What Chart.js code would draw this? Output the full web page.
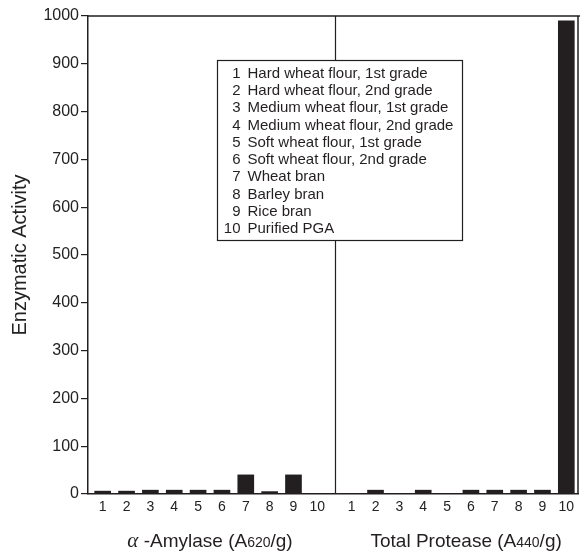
<!DOCTYPE html>
<html>
<head>
<meta charset="utf-8">
<script src="https://cdn.jsdelivr.net/npm/chart.js@4.4.1/dist/chart.umd.min.js"></script>
<style>
html,body{margin:0;padding:0;background:#fff;}
#wrap{width:580px;height:551px;position:relative;}
</style>
</head>
<body>
<div id="wrap"><canvas id="c" width="580" height="551"></canvas></div>
<script>
// ---- data ----
const categories = ['1','2','3','4','5','6','7','8','9','10'];
const amylase  = [6, 6, 8, 8, 8, 8, 40, 5, 40, 0];      // α-Amylase (A620/g)
const protease = [0, 8, 0, 8, 0, 8, 8, 8, 8, 990];      // Total Protease (A440/g)
const yTickValues = [0,100,200,300,400,500,600,700,800,900,1000];
const legendLabels = [
  'Hard wheat flour, 1st grade',
  'Hard wheat flour, 2nd grade',
  'Medium wheat flour, 1st grade',
  'Medium wheat flour, 2nd grade',
  'Soft wheat flour, 1st grade',
  'Soft wheat flour, 2nd grade',
  'Wheat bran',
  'Barley bran',
  'Rice bran',
  'Purified PGA'
];
const yTitle = 'Enzymatic Activity';

// ---- layout constants ----
const RIGHT_OFFSET = 10.44;   // shift of the second panel along x
const SEPARATOR = 10.74;      // panel divider
const X_MIN = 0.384, X_MAX = 20.93;
const INK = '#231f20';
const SANS = '"Liberation Sans", Arial, Helvetica, sans-serif';

const leftPos = categories.map((c,i)=>i+1);
const rightPos = categories.map((c,i)=>i+1+RIGHT_OFFSET);
const tickPositions = leftPos.concat(rightPos);
const tickLabels = categories.concat(categories);

const barData = amylase.map((v,i)=>({x:leftPos[i], y:v}))
  .concat(protease.map((v,i)=>({x:rightPos[i], y:v})));

function drawRich(ctx, parts, cx, baseline){
  let total = 0;
  parts.forEach(p=>{ctx.font=p.font; p.w = ctx.measureText(p.t).width; total += p.w;});
  let x = cx - total/2;
  ctx.textAlign='left'; ctx.textBaseline='alphabetic';
  parts.forEach(p=>{ctx.font=p.font; ctx.fillText(p.t, x, baseline); x += p.w;});
}

const decor = {
  id:'decor',
  afterDraw(chart){
    const ctx = chart.ctx, a = chart.chartArea;
    const xs = chart.scales.x;
    ctx.save();
    ctx.strokeStyle = INK; ctx.fillStyle = INK;
    // top and right frame
    ctx.lineWidth = 1.5;
    ctx.beginPath();
    ctx.moveTo(a.left, a.top); ctx.lineTo(chart.width, a.top);
    ctx.moveTo(a.right, a.top); ctx.lineTo(a.right, a.bottom);
    ctx.stroke();
    // separator
    const sx = Math.round(xs.getPixelForValue(SEPARATOR)) + 0.5;
    ctx.lineWidth = 1.2;
    ctx.beginPath(); ctx.moveTo(sx, a.top); ctx.lineTo(sx, a.bottom); ctx.stroke();

    // legend box
    const bx = a.left + 129.5, by = a.top + 44.5, bw = 245, bh = 180;
    ctx.fillStyle = '#fff';
    ctx.fillRect(bx, by, bw, bh);
    ctx.lineWidth = 1.2; ctx.strokeStyle = INK;
    ctx.strokeRect(bx, by, bw, bh);
    ctx.fillStyle = INK;
    ctx.font = '15px ' + SANS;
    ctx.textBaseline = 'middle';
    const rowH = 17.3, firstY = by + 13;
    legendLabels.forEach((lab,i)=>{
      const y = firstY + i*rowH;
      ctx.textAlign = 'right';
      ctx.fillText(categories[i], bx + 23, y);
      ctx.textAlign = 'left';
      ctx.fillText(lab, bx + 30, y);
    });

    // x axis titles
    const base = a.bottom + 53;
    drawRich(ctx, [
      {t:'α', font:'italic 21px "Liberation Serif", "DejaVu Serif", serif'},
      {t:' -Amylase (A', font:'19px ' + SANS},
      {t:'620', font:'14px ' + SANS},
      {t:'/g)', font:'19px ' + SANS}
    ], xs.getPixelForValue(5.5), base);
    drawRich(ctx, [
      {t:'Total Protease (A', font:'19px ' + SANS},
      {t:'440', font:'14px ' + SANS},
      {t:'/g)', font:'19px ' + SANS}
    ], xs.getPixelForValue(5.8 + RIGHT_OFFSET), base);
    ctx.restore();
  }
};

new Chart(document.getElementById('c'), {
  type:'bar',
  data:{
    datasets:[{
      data: barData,
      backgroundColor: INK,
      borderWidth: 0,
      barThickness: 16
    }]
  },
  options:{
    responsive:false,
    animation:false,
    events:[],
    layout:{padding:{top:16, right:2, left:0, bottom:0}},
    plugins:{legend:{display:false}, tooltip:{enabled:false}},
    scales:{
      x:{
        type:'linear',
        min:X_MIN, max:X_MAX,
        offset:false,
        afterBuildTicks(scale){ scale.ticks = tickPositions.map(v=>({value:v})); },
        afterFit(scale){ scale.height = 57; },
        ticks:{
          autoSkip:false, maxRotation:0, padding:5,
          color:'#222',
          font:{family:SANS, size:14},
          callback:(v,i)=>tickLabels[i]
        },
        grid:{display:false, drawTicks:false},
        border:{display:true, color:INK, width:1.5}
      },
      y:{
        min:0, max:1000,
        afterBuildTicks(scale){ scale.ticks = yTickValues.map(v=>({value:v})); },
        afterFit(scale){ scale.width = 88; },
        ticks:{color:'#222', padding:2, font:{family:SANS, size:16}, callback:(v)=>String(v)},
        grid:{display:true, drawOnChartArea:false, drawTicks:true, tickLength:7, color:INK, lineWidth:1.2},
        border:{display:true, color:INK, width:1.5},
        title:{display:true, text:yTitle, color:'#222', font:{family:SANS, size:20}, padding:{top:8, bottom:8}}
      }
    }
  },
  plugins:[decor]
});
</script>
</body>
</html>
